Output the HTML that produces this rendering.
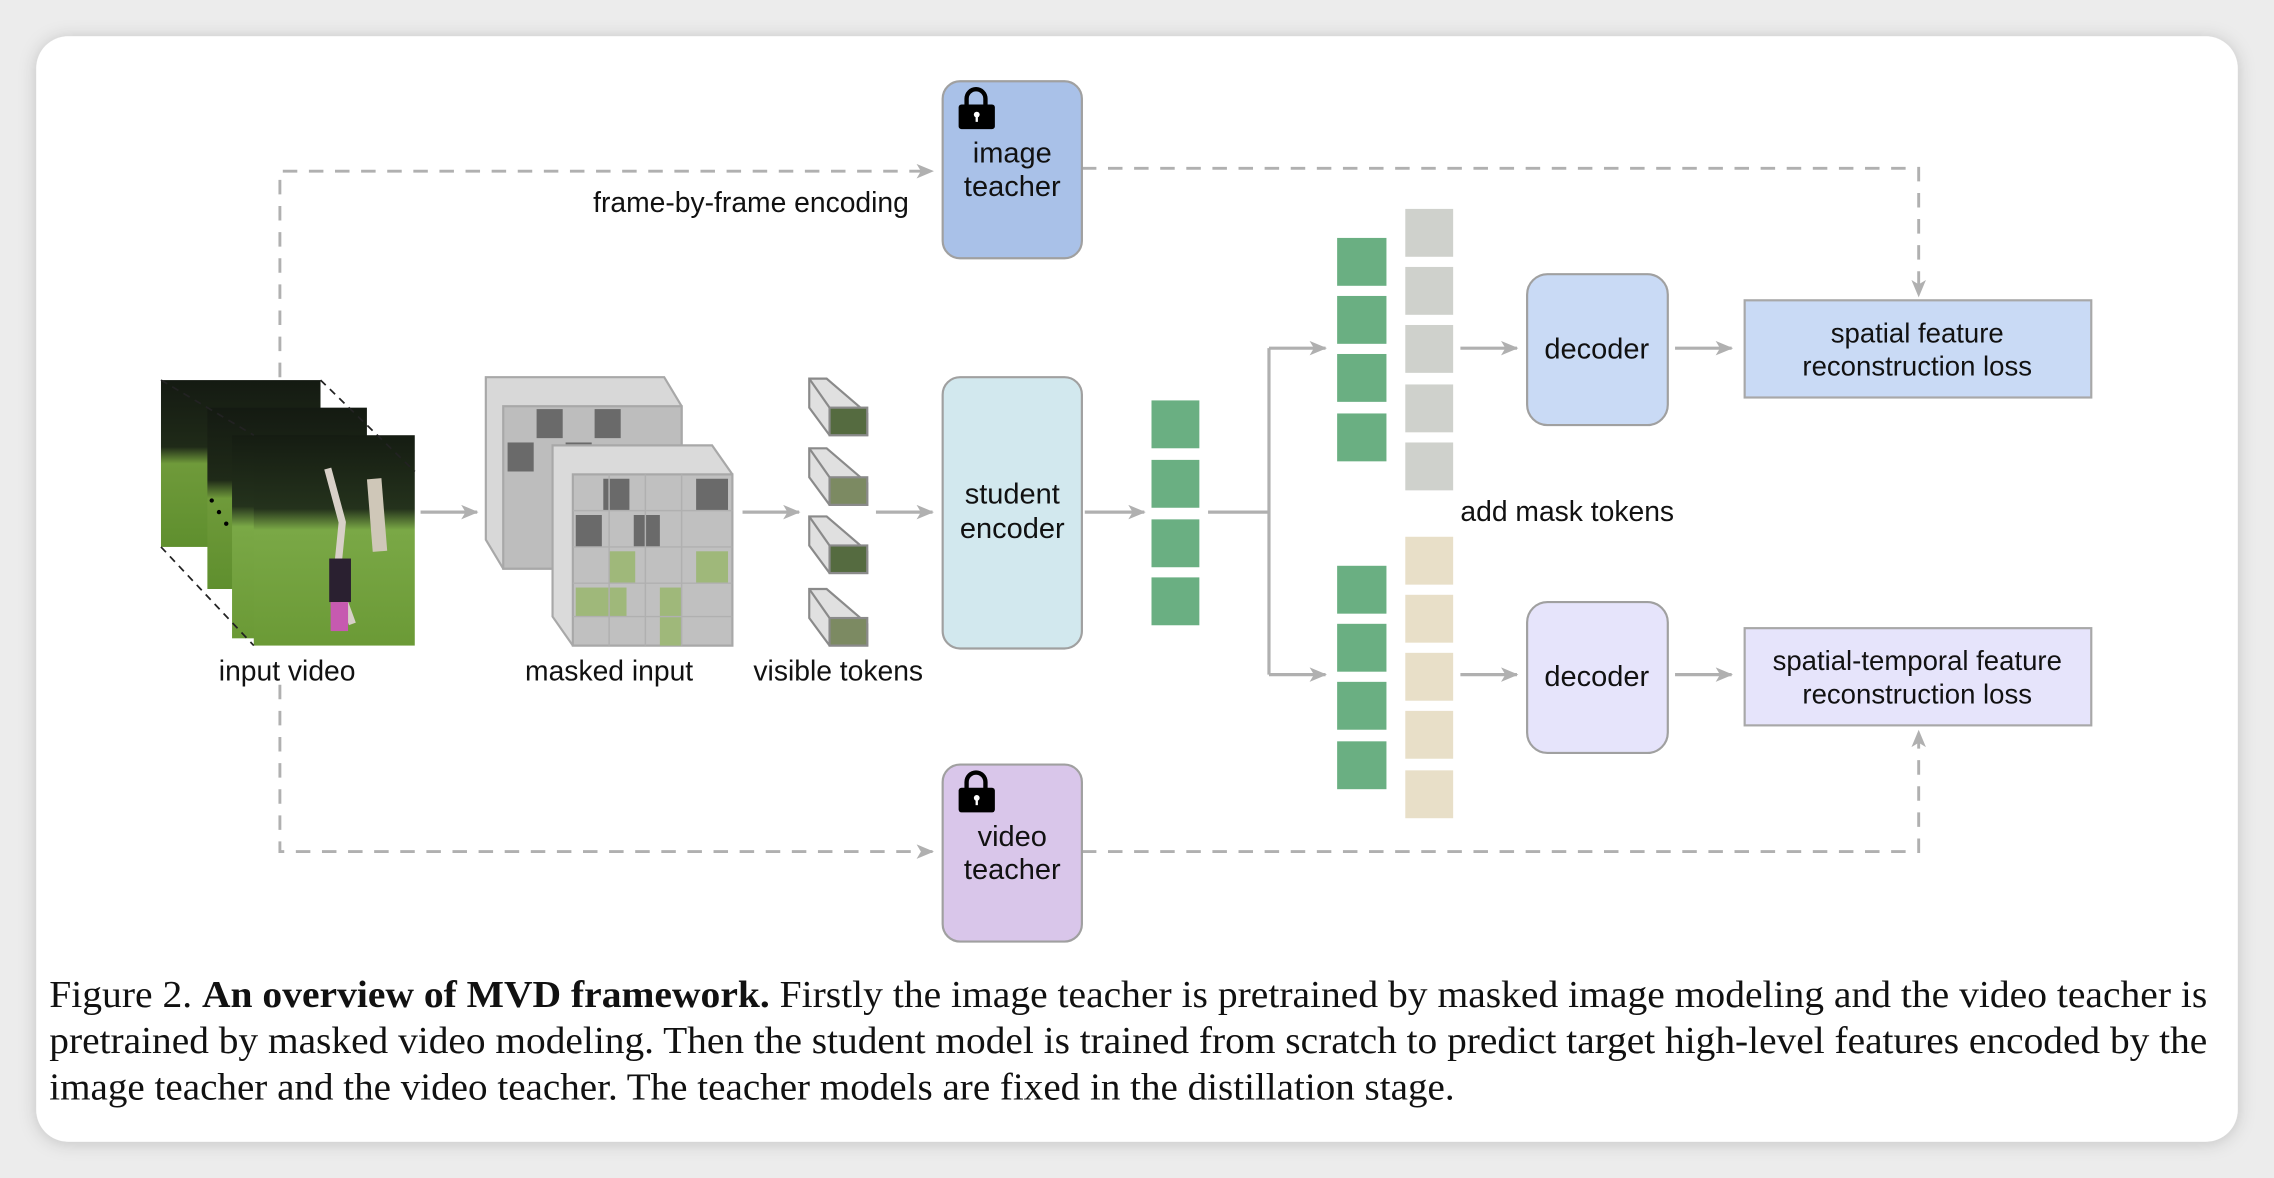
<!DOCTYPE html>
<html><head><meta charset="utf-8"><style>
html,body{margin:0;padding:0;background:#ececec;width:2274px;height:1178px;overflow:hidden}
svg{display:block}
</style></head><body>
<svg width="2274" height="1178" viewBox="0 0 1568 812" preserveAspectRatio="none" xmlns="http://www.w3.org/2000/svg" font-family="Liberation Sans, sans-serif">
<defs>
<marker id="ah" markerWidth="12" markerHeight="10" refX="11" refY="5" orient="auto" markerUnits="userSpaceOnUse"><path d="M0,0 L12,5 L0,10 L3,5 Z" fill="#b0b0b0"/></marker>
<filter id="sh" x="-5%" y="-5%" width="110%" height="110%"><feDropShadow dx="0" dy="1" stdDeviation="6" flood-color="#000" flood-opacity="0.18"/></filter>
<linearGradient id="vid" x1="0" y1="0" x2="0" y2="1"><stop offset="0" stop-color="#141a12"/><stop offset="0.4" stop-color="#1f2a18"/><stop offset="0.5" stop-color="#6f9a3a"/><stop offset="1" stop-color="#5f8f2e"/></linearGradient>
<linearGradient id="vid2" x1="0" y1="0" x2="0" y2="1"><stop offset="0" stop-color="#151c12"/><stop offset="0.35" stop-color="#24321c"/><stop offset="0.45" stop-color="#7aa846"/><stop offset="1" stop-color="#6b9a36"/></linearGradient>
</defs>
<rect x="0" y="0" width="1568" height="812" fill="#ececec"/>
<rect x="25" y="25" width="1518" height="762" rx="22" fill="#fff" filter="url(#sh)"/>

<g stroke="#b0b0b0" stroke-width="2" fill="none" stroke-dasharray="10,8">
<path d="M193,260 L193,118 L643,118" marker-end="url(#ah)"/>
<path d="M746,116 L1323,116 L1323,204" marker-end="url(#ah)"/>
<path d="M193,472 L193,587 L643,587" marker-end="url(#ah)"/>
<path d="M746,587 L1323,587 L1323,504" marker-end="url(#ah)"/>
</g>
<text x="409" y="146" font-size="19.5" fill="#111">frame-by-frame encoding</text>

<rect x="650" y="56" width="96" height="122" rx="12" fill="#a9c1e8" stroke="#a0a0a0" stroke-width="1.5"/>
<rect x="650" y="527" width="96" height="122" rx="12" fill="#d9c6ea" stroke="#a0a0a0" stroke-width="1.5"/>
<g fill="#000">
<path d="M665,73 v-5 a8,8 0 0 1 16,0 v5 h-3 v-5 a5,5 0 0 0 -10,0 v5 Z"/><rect x="661" y="72" width="25" height="17" rx="2"/>
<path d="M665,544 v-5 a8,8 0 0 1 16,0 v5 h-3 v-5 a5,5 0 0 0 -10,0 v5 Z"/><rect x="661" y="543" width="25" height="17" rx="2"/>
</g>
<circle cx="673.5" cy="79" r="2" fill="#fff"/><rect x="672.7" y="79" width="1.6" height="5" fill="#fff"/>
<circle cx="673.5" cy="550" r="2" fill="#fff"/><rect x="672.7" y="550" width="1.6" height="5" fill="#fff"/>
<rect x="650" y="260" width="96" height="187" rx="12" fill="#d2e8ee" stroke="#a0a0a0" stroke-width="1.5"/>
<g font-size="20" fill="#111" text-anchor="middle">
<text x="698" y="112">image</text><text x="698" y="135">teacher</text>
<text x="698" y="583">video</text><text x="698" y="606">teacher</text>
<text x="698" y="347">student</text><text x="698" y="371">encoder</text>
</g>

<g>
<rect x="111" y="262" width="110" height="115" fill="url(#vid)"/>
<rect x="143" y="281" width="110" height="125" fill="url(#vid)"/>
<rect x="160" y="300" width="80" height="140" fill="url(#vid2)"/>
<rect x="175" y="300" width="111" height="145" fill="url(#vid2)"/>
<path d="M226,323 L236,360 L232,400 L243,430" stroke="#d8d0c8" stroke-width="5" fill="none"/>
<path d="M258,330 L262,380" stroke="#cfc7b8" stroke-width="10"/>
<rect x="227" y="385" width="15" height="30" fill="#2a2030"/>
<rect x="228" y="415" width="12" height="20" fill="#c65ab0"/>
<g stroke="#222" stroke-width="1.2" stroke-dasharray="5,4" fill="none">
<path d="M221,262 L286,325"/><path d="M111,377 L175,445"/><path d="M111,262 L175,300"/>
</g>
<circle cx="146" cy="345" r="1.5" fill="#000"/><circle cx="151" cy="353" r="1.5" fill="#000"/><circle cx="156" cy="361" r="1.5" fill="#000"/>
</g>
<text x="198" y="469" font-size="19.5" fill="#111" text-anchor="middle">input video</text>

<g stroke="#a8a8a8" stroke-width="1.5">
<path d="M335,260 L458,260 L470,280 L470,392 L347,392 L335,372 Z" fill="#d8d8d8"/>
<rect x="347" y="280" width="123" height="112" fill="#bdbdbd"/>
<g fill="#6a6a6a" stroke="none">
<rect x="370" y="282" width="18" height="20"/><rect x="410" y="282" width="18" height="20"/>
<rect x="350" y="305" width="18" height="20"/><rect x="390" y="305" width="18" height="20"/>
</g>
<path d="M381,307 L491,307 L505,327 L505,445 L395,445 L381,425 Z" fill="#dadada"/>
<rect x="395" y="327" width="110" height="118" fill="#c0c0c0"/>
<g fill="#6a6a6a" stroke="none">
<rect x="416" y="330" width="18" height="22"/><rect x="397" y="355" width="18" height="22"/><rect x="437" y="355" width="18" height="22"/><rect x="480" y="330" width="22" height="22"/>
</g>
<g fill="#9fb87a" stroke="none">
<rect x="397" y="405" width="35" height="20"/><rect x="455" y="405" width="15" height="40"/><rect x="420" y="380" width="18" height="22"/><rect x="480" y="380" width="22" height="22"/>
</g>
<g stroke="#b0b0b0" stroke-width="1" fill="none">
<path d="M395,352 H505 M395,377 H505 M395,402 H505 M395,425 H505 M420,327 V445 M445,327 V445 M470,327 V445"/>
</g>
</g>
<text x="420" y="469" font-size="19.5" fill="#111" text-anchor="middle">masked input</text>

<g stroke="#8a8a8a" stroke-width="1.5">
<g><path d="M558,261 L570,261 L598,285 L598,300 L572,300 L558,281 Z" fill="#e0e0e0"/><rect x="572" y="281" width="26" height="19" fill="#556b40"/><path d="M558,261 L572,281" /></g>
<g><path d="M558,309 L570,309 L598,333 L598,348 L572,348 L558,329 Z" fill="#e0e0e0"/><rect x="572" y="329" width="26" height="19" fill="#7c8a62"/><path d="M558,309 L572,329"/></g>
<g><path d="M558,356 L570,356 L598,380 L598,395 L572,395 L558,376 Z" fill="#e0e0e0"/><rect x="572" y="376" width="26" height="19" fill="#556b40"/><path d="M558,356 L572,376"/></g>
<g><path d="M558,406 L570,406 L598,430 L598,445 L572,445 L558,426 Z" fill="#e0e0e0"/><rect x="572" y="426" width="26" height="19" fill="#7c8a62"/><path d="M558,406 L572,426"/></g>
</g>
<text x="578" y="469" font-size="19.5" fill="#111" text-anchor="middle">visible tokens</text>

<g stroke="#b0b0b0" stroke-width="2.2" fill="none">
<path d="M290,353 L329,353" marker-end="url(#ah)"/>
<path d="M512,353 L551,353" marker-end="url(#ah)"/>
<path d="M604,353 L643,353" marker-end="url(#ah)"/>
<path d="M748,353 L789,353" marker-end="url(#ah)"/>
<path d="M833,353 L875,353 M875,240 L875,465"/>
<path d="M875,240 L914,240" marker-end="url(#ah)"/>
<path d="M875,465 L914,465" marker-end="url(#ah)"/>
<path d="M1007,240 L1046,240" marker-end="url(#ah)"/>
<path d="M1007,465 L1046,465" marker-end="url(#ah)"/>
<path d="M1155,240 L1194,240" marker-end="url(#ah)"/>
<path d="M1155,465 L1194,465" marker-end="url(#ah)"/>
</g>

<g fill="#6aaf82">
<rect x="794" y="276" width="33" height="33"/><rect x="794" y="317" width="33" height="33"/><rect x="794" y="358" width="33" height="33"/><rect x="794" y="398" width="33" height="33"/>
<rect x="922" y="164" width="34" height="33"/><rect x="922" y="204" width="34" height="33"/><rect x="922" y="244" width="34" height="33"/><rect x="922" y="285" width="34" height="33"/>
<rect x="922" y="390" width="34" height="33"/><rect x="922" y="430" width="34" height="33"/><rect x="922" y="470" width="34" height="33"/><rect x="922" y="511" width="34" height="33"/>
</g>
<g fill="#cfd1cc">
<rect x="969" y="144" width="33" height="33"/><rect x="969" y="184" width="33" height="33"/><rect x="969" y="224" width="33" height="33"/><rect x="969" y="265" width="33" height="33"/><rect x="969" y="305" width="33" height="33"/>
</g>
<g fill="#e8dfc8">
<rect x="969" y="370" width="33" height="33"/><rect x="969" y="410" width="33" height="33"/><rect x="969" y="450" width="33" height="33"/><rect x="969" y="490" width="33" height="33"/><rect x="969" y="531" width="33" height="33"/>
</g>
<text x="1007" y="359" font-size="19.5" fill="#111">add mask tokens</text>

<rect x="1053" y="189" width="97" height="104" rx="14" fill="#c9daf5" stroke="#a0a0a0" stroke-width="1.5"/>
<rect x="1053" y="415" width="97" height="104" rx="14" fill="#e6e4fb" stroke="#a0a0a0" stroke-width="1.5"/>
<g font-size="20" fill="#111" text-anchor="middle"><text x="1101" y="247">decoder</text><text x="1101" y="473">decoder</text></g>

<rect x="1203" y="207" width="239" height="67" fill="#c9daf5" stroke="#a8a8a8" stroke-width="1.5"/>
<rect x="1203" y="433" width="239" height="67" fill="#e6e4fb" stroke="#a8a8a8" stroke-width="1.5"/>
<g font-size="19" fill="#111" text-anchor="middle">
<text x="1322" y="236">spatial feature</text><text x="1322" y="259">reconstruction loss</text>
<text x="1322" y="462">spatial-temporal feature</text><text x="1322" y="485">reconstruction loss</text>
</g>

<g font-family="Liberation Serif, serif" font-size="26.5" fill="#111">
<text x="34" y="694" textLength="1488" lengthAdjust="spacingAndGlyphs">Figure 2. <tspan font-weight="bold">An overview of MVD framework.</tspan> Firstly the image teacher is pretrained by masked image modeling and the video teacher is</text>
<text x="34" y="726" textLength="1488" lengthAdjust="spacingAndGlyphs">pretrained by masked video modeling. Then the student model is trained from scratch to predict target high-level features encoded by the</text>
<text x="34" y="758" textLength="969" lengthAdjust="spacingAndGlyphs">image teacher and the video teacher. The teacher models are fixed in the distillation stage.</text>
</g>
</svg>
</body></html>
